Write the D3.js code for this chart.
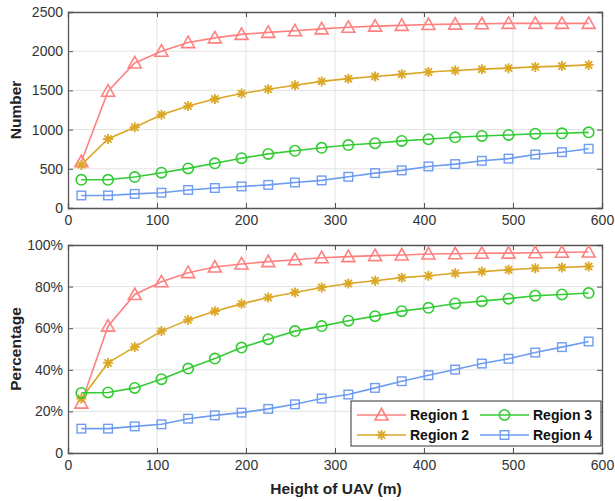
<!DOCTYPE html>
<html lang="en">
<head>
<meta charset="utf-8">
<title>Number and percentage vs height of UAV</title>
<script src="https://cdn.jsdelivr.net/npm/d3@7"></script>
<style>
	body { margin: 0; background: #fff; }
	svg { display: block; font-family: "Liberation Sans", Arial, sans-serif; }
	.tick text { fill: #333; font-size: 14px; }
	.lab { font-weight: bold; font-size: 15.5px; fill: #222; }
</style>
</head>
<body>
<script>

// x values: height of UAV (m)
var heights = [15, 45, 75, 105, 135, 165, 195, 225, 255, 285, 315, 345, 375, 405, 435, 465, 495, 525, 555, 585];

var regions = ['Region 1', 'Region 2', 'Region 3', 'Region 4'];
var colors = ['#ff8080', '#dba724', '#33cc33', '#6e9cf0'];
var markers = ['triangle', 'asterisk', 'circle', 'square'];

// top panel: number
var num1 = [590, 1490, 1850, 2000, 2110, 2170, 2215, 2240, 2260, 2285, 2305, 2320, 2330, 2340, 2345, 2350, 2355, 2355, 2355, 2355];
var num2 = [550, 880, 1030, 1190, 1300, 1390, 1460, 1515, 1565, 1615, 1650, 1678, 1705, 1735, 1754, 1771, 1784, 1800, 1810, 1825];
var num3 = [360, 360, 395, 450, 505, 570, 635, 690, 730, 768, 803, 826, 856, 877, 902, 919, 932, 948, 953, 965];
var num4 = [160, 160, 180, 195, 230, 255, 275, 295, 325, 352, 398, 445, 480, 530, 560, 602, 630, 682, 712, 756];

// bottom panel: percentage
var pct1 = [24, 61, 76.2, 82.3, 86.7, 89.4, 90.9, 92.0, 92.9, 93.9, 94.4, 94.9, 95.2, 95.7, 95.8, 96.0, 96.1, 96.3, 96.5, 96.6];
var pct2 = [26.2, 43.3, 51.0, 58.6, 64.0, 68.2, 71.7, 74.8, 77.2, 79.6, 81.5, 82.8, 84.3, 85.2, 86.4, 87.2, 88.1, 88.8, 89.2, 89.7];
var pct3 = [28.9, 29.1, 31.3, 35.5, 40.6, 45.4, 50.7, 54.7, 58.6, 61.0, 63.6, 65.8, 68.2, 69.8, 71.9, 73.0, 74.2, 75.6, 76.2, 76.9];
var pct4 = [11.7, 11.7, 12.8, 13.8, 16.5, 18.1, 19.4, 21.2, 23.4, 26.2, 28.1, 31.3, 34.5, 37.4, 40.1, 43.0, 45.3, 48.3, 50.9, 53.6];

var xTicks = [0, 100, 200, 300, 400, 500, 600];
var numTicks = [0, 500, 1000, 1500, 2000, 2500];
var pctTicks = [0, 20, 40, 60, 80, 100];

var W = 615, H = 501;
var svg = d3.select('body').append('svg').attr('width', W).attr('height', H);

function drawMarker(g, type, color) {
	if (type == 'triangle') {
		g.append('path').attr('d', 'M0,-6.5L6.5,5L-6.5,5Z')
			.attr('fill', 'none').attr('stroke', color).attr('stroke-width', 1.6);
	} else if (type == 'asterisk') {
		g.append('path').attr('d', 'M-5,0H5M0,-5V5M-3.6,-3.6L3.6,3.6M-3.6,3.6L3.6,-3.6')
			.attr('stroke', color).attr('stroke-width', 1.8);
	} else if (type == 'circle') {
		g.append('circle').attr('r', 5.2)
			.attr('fill', 'none').attr('stroke', color).attr('stroke-width', 1.6);
	} else {
		g.append('rect').attr('x', -4.3).attr('y', -4.3).attr('width', 8.6).attr('height', 8.6)
			.attr('fill', 'none').attr('stroke', color).attr('stroke-width', 1.4);
	}
}

function panel(top, bottom, yMax, yTicks, yFmt, series, ylabel) {
	var x = d3.scaleLinear().domain([0, 600]).range([68, 602]);
	var y = d3.scaleLinear().domain([0, yMax]).range([bottom, top]);
	var g = svg.append('g');

	// grid
	g.selectAll('.gx').data(xTicks.slice(1, -1)).enter().append('line')
		.attr('x1', d => x(d)).attr('x2', d => x(d)).attr('y1', top).attr('y2', bottom)
		.attr('stroke', '#e3e3e3');
	g.selectAll('.gy').data(yTicks.slice(1, -1)).enter().append('line')
		.attr('x1', 68).attr('x2', 602).attr('y1', d => y(d)).attr('y2', d => y(d))
		.attr('stroke', '#e3e3e3');

	// axes with inward ticks
	var ax = [
		d3.axisBottom(x).tickValues(xTicks).tickSize(-5).tickPadding(7),
		d3.axisTop(x).tickValues(xTicks).tickSize(-5).tickFormat(''),
		d3.axisLeft(y).tickValues(yTicks).tickSize(-5).tickPadding(5).tickFormat(yFmt),
		d3.axisRight(y).tickValues(yTicks).tickSize(-5).tickFormat('')
	];
	var tr = ['translate(0,' + bottom + ')', 'translate(0,' + top + ')', 'translate(68,0)', 'translate(602,0)'];
	ax.forEach(function(a, i) {
		var ag = g.append('g').attr('transform', tr[i]).call(a);
		ag.select('.domain').attr('stroke', '#555').attr('stroke-width', 1.3);
		ag.selectAll('.tick line').attr('stroke', '#555');
		ag.selectAll('.tick text').attr('font-family', null).attr('font-size', null);
	});

	var line = d3.line().x((d, i) => x(heights[i])).y(d => y(d));
	series.forEach(function(s, k) {
		g.append('path').datum(s).attr('d', line)
			.attr('fill', 'none').attr('stroke', colors[k]).attr('stroke-width', 1.6);
		s.forEach(function(v, i) {
			drawMarker(g.append('g').attr('transform', 'translate(' + x(heights[i]) + ',' + y(v) + ')'), markers[k], colors[k]);
		});
	});

	svg.append('text').attr('class', 'lab').attr('text-anchor', 'middle')
		.attr('transform', 'translate(21,' + (top + bottom) / 2 + ') rotate(-90)')
		.text(ylabel);
}

panel(12, 208, 2500, numTicks, d => d, [num1, num2, num3, num4], 'Number');
panel(245, 453, 100, pctTicks, d => d == 0 ? '0' : d + '%', [pct1, pct2, pct3, pct4], 'Percentage');

svg.append('text').attr('class', 'lab').attr('text-anchor', 'middle')
	.attr('x', 336).attr('y', 494).text('Height of UAV (m)');

// legend
var leg = svg.append('g').attr('transform', 'translate(351,401)');
leg.append('rect').attr('width', 250).attr('height', 45)
	.attr('fill', '#fff').attr('stroke', '#333').attr('stroke-width', 1);
regions.forEach(function(r, k) {
	var lx = k < 2 ? 6 : 129, ly = k % 2 == 0 ? 14 : 34;
	leg.append('line').attr('x1', lx).attr('x2', lx + 49).attr('y1', ly).attr('y2', ly)
		.attr('stroke', colors[k]).attr('stroke-width', 1.6);
	drawMarker(leg.append('g').attr('transform', 'translate(' + (lx + 24.5) + ',' + ly + ')'), markers[k], colors[k]);
	leg.append('text').attr('x', lx + 53).attr('y', ly + 5)
		.attr('font-size', 14).attr('font-weight', 'bold').attr('fill', '#111').text(r);
});

</script>
</body>
</html>
